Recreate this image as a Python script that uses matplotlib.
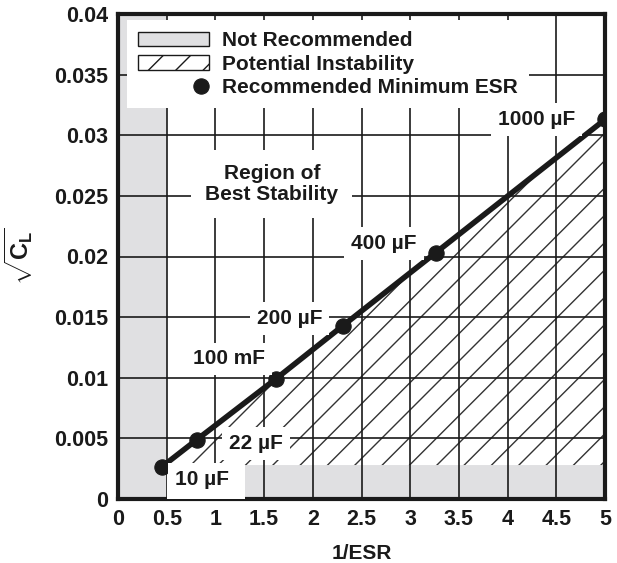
import matplotlib
matplotlib.use('Agg')
import matplotlib.pyplot as plt
from matplotlib.patches import Patch
from matplotlib.lines import Line2D
import numpy as np

plt.rcParams['font.family'] = ['Liberation Sans', 'DejaVu Sans']
plt.rcParams['font.weight'] = 'bold'
plt.rcParams['axes.labelweight'] = 'bold'
plt.rcParams['mathtext.fontset'] = 'custom'
plt.rcParams['mathtext.rm'] = 'Liberation Sans:bold'
plt.rcParams['mathtext.it'] = 'Liberation Sans:bold'
plt.rcParams['mathtext.bf'] = 'Liberation Sans:bold'

# recommended minimum ESR points
inv_esr = [0.45, 0.81, 1.62, 2.31, 3.26, 5.0]
sqrt_cl = [0.00265, 0.0049, 0.0099, 0.0143, 0.0203, 0.0313]

# capacitor labels and where they sit (data coords)
cap_labels = ['10 µF', '22 µF', '100 mF', '200 µF', '400 µF', '1000 µF']
label_x = [0.86, 1.42, 1.14, 1.76, 2.73, 4.3]
label_y = [0.0016, 0.0046, 0.01155, 0.0149, 0.0211, 0.0313]

# region bounds
gray_x_max = 0.5
gray_y_max = 0.0028
clear_x = [0.505, 1.3]   # white gap in the bottom band behind "10 µF"

x_ticks = [0, 0.5, 1, 1.5, 2, 2.5, 3, 3.5, 4, 4.5, 5]
x_tick_labels = ['0', '0.5', '1', '1.5', '2', '2.5', '3', '3.5', '4', '4.5', '5']
y_ticks = [0, 0.005, 0.01, 0.015, 0.02, 0.025, 0.03, 0.035, 0.04]
y_tick_labels = ['0', '0.005', '0.01', '0.015', '0.02', '0.025', '0.03', '0.035', '0.04']

gray = '#e0e0e2'
ink = '#1a1a1a'

# render at 82 dpi so the hatch spacing matches; sizes below are in
# "100 dpi points" and get scaled by S
DPI = 82
S = 100 / DPI
fs = 15 * S

plt.rcParams['hatch.linewidth'] = 1.0 * S

fig = plt.figure(figsize=(617 / DPI, 563 / DPI), dpi=DPI)
ax = fig.add_axes([118 / 617, 64 / 563, 487 / 617, 485 / 563])

# not recommended regions
ax.fill_between([0, gray_x_max], 0, 0.04, color=gray, lw=0, zorder=1)
ax.fill_between([gray_x_max, 5], 0, gray_y_max, color=gray, lw=0, zorder=1)

# potential instability (hatched, under the line)
xs = np.array(inv_esr)
ys = np.array(sqrt_cl)
ax.fill_between(xs, ys, gray_y_max, where=ys >= gray_y_max, interpolate=True,
                facecolor='white', edgecolor='#333333', hatch='/', lw=0,
                zorder=1.5)

# grid on top of regions
ax.set_axisbelow(False)
ax.grid(True, color=ink, lw=1.2 * S, zorder=2.5)

# white gap behind the 10 uF label (covers grid too)
ax.fill_between(clear_x, 0, gray_y_max, color='white', lw=0, zorder=3)

ax.plot(inv_esr, sqrt_cl, color=ink, lw=4 * S, marker='o', ms=11 * S,
        zorder=4)

box = dict(facecolor='white', edgecolor='none', pad=5 * S)
for lab, lx, ly in zip(cap_labels, label_x, label_y):
    ax.text(lx, ly, lab, ha='center', va='center', fontsize=fs,
            color=ink, bbox=box, zorder=5)

ax.text(1.58, 0.026, 'Region of\nBest Stability', ha='center', va='center',
        fontsize=fs, color=ink, linespacing=1.15,
        bbox=dict(facecolor='white', edgecolor='none', pad=10 * S), zorder=5)

ax.set_xlim(0, 5)
ax.set_ylim(0, 0.04)
ax.set_xticks(x_ticks)
ax.set_xticklabels(x_tick_labels)
ax.set_yticks(y_ticks)
ax.set_yticklabels(y_tick_labels)
ax.tick_params(length=0, labelsize=fs + 0.5 * S, pad=7 * S, colors=ink)
for sp in ax.spines.values():
    sp.set_linewidth(3 * S)
    sp.set_color(ink)

ax.set_xlabel('1/ESR', fontsize=fs, color=ink, labelpad=10 * S)
ax.set_ylabel(r'$\sqrt{C_L}$', fontsize=fs + 2 * S, color=ink,
              labelpad=14 * S)

handles = [
    Patch(facecolor=gray, edgecolor=ink, lw=1 * S),
    Patch(facecolor='white', edgecolor=ink, hatch='/', lw=1 * S),
    Line2D([], [], color=ink, marker='o', ms=11 * S, ls='none'),
]
names = ['Not Recommended', 'Potential Instability', 'Recommended Minimum ESR']
leg = ax.legend(handles, names, loc='upper left',
                bbox_to_anchor=(9 / 487, 1 - 6 / 485), borderaxespad=0,
                fontsize=fs, frameon=True, fancybox=False, framealpha=1,
                edgecolor='none', handlelength=3.4, handletextpad=0.6,
                labelspacing=0.2, borderpad=0.55, numpoints=1)
leg.get_frame().set_linewidth(0)
leg.set_zorder(6)
for t in leg.get_texts():
    t.set_color(ink)

# put the legend dot near the right end of its handle, like the original
dot = leg.legend_handles[2]
xd = dot.get_xdata()
dot.set_xdata([xd[0], xd[1], xd[0] + 0.88 * (xd[-1] - xd[0])])
dot.set_markevery([2])

fig.savefig('out.png', dpi=DPI)
